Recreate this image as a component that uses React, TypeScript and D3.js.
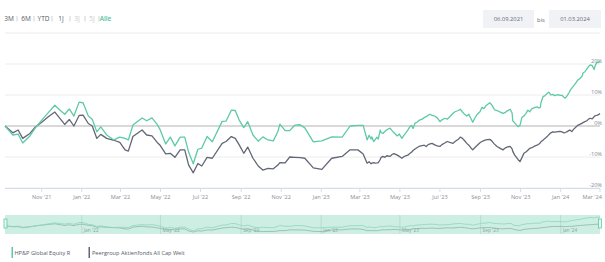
import React from "react";
import * as d3 from "d3";

const startDate = new Date(2021, 8, 6);
const endDate = new Date(2024, 2, 1);

// days since 06.09.2021
const dayOffsets = [
  0, 12, 20, 27, 38, 46, 56, 66, 76, 84, 91, 98, 105, 113, 119, 127, 133, 140, 146, 155,
  166, 175, 183, 188, 195, 209, 216, 224, 232, 236, 245, 252, 259, 267, 274, 280, 287, 294, 300, 308,
  316, 331, 337, 345, 351, 357, 364, 370, 378, 386, 393, 401, 409, 416, 419, 427, 434, 442, 450, 457,
  470, 483, 498, 514, 526, 538, 546,
  552, 555, 558, 559, 562, 564, 567, 569, 572, 573, 576, 579, 582, 587, 590, 593, 598, 601, 605, 608,
  611, 614, 617, 620, 622, 625, 628, 631, 636, 639, 642, 645, 648, 651, 655, 659, 663, 666, 671, 674,
  678, 683, 686, 691, 694, 697, 700, 704, 707, 710, 713, 716, 720, 724, 727, 730, 733, 736, 739, 742,
  745, 747, 750, 755, 759, 762, 765, 770, 773, 774, 777, 782, 785, 788, 791, 794, 797, 800, 803, 808,
  811, 814, 816, 817, 820, 823, 826, 829, 832, 835, 838, 843, 846, 849, 852, 854, 857, 860, 861, 864,
  867, 870, 873, 877, 880, 881, 884, 887, 890, 892, 895, 898, 899, 902, 904, 907,
];

const fundValues = [
  0, -2.9, -2.6, -5.5, -3.2, -0.7, 1.9, 4.3, 6.7, 5.1, 3.8, 5.5, 3.2, 7.7, 7.5, 3.2, 2.2, -1.9, -0.3, -2.9,
  -4.5, -3.6, -4.0, -4.5, 0.3, 2.6, 1.7, 2.6, 0.5, -1.0, -5.8, -3.6, -6.4, -3.6, -3.6, -8.5, -12.2, -7.5, -7.1, -3.4,
  -5.1, 1.5, 1.6, 5.1, 5.0, 1.9, -0.5, 1.4, -2.9, -4.9, -3.5, -4.5, -4.8, -1.8, 0.6, -1.5, -1.5, 0.3, 0.4, -0.6,
  -5.1, -4.8, -3.5, -3.6, 0, 0.2, 0.2,
  -4.5, -3.0, -4.2, -3.5, -5.0, -4.5, -3.6, -4.2, -1.3, -2.0, -2.4, -1.8, -1.2, -0.7, -1.5, -2.2, -3.2, -2.6, -4.0, -3.0,
  -2.2, -1.3, -0.3, 0.2, -0.8, 0.9, 1.2, 1.8, 2.2, 2.7, 3.0, 3.5, 3.8, 3.4, 3.2, 2.6, 1.4, 2.0, 2.5, 2.2,
  3.0, 4.1, 4.6, 5.0, 5.4, 4.6, 3.9, 3.2, 3.8, 2.5, 1.2, 2.5, 3.8, 4.6, 6.0, 5.6, 6.5, 7.0, 7.5, 6.8,
  5.7, 5.1, 5.0, 4.5, 4.1, 4.3, 4.8, 5.4, 4.2, 1.7, 1.0, -0.2, 0.2, 2.8, 3.2, 4.0, 5.1, 4.6, 5.5, 6.0,
  6.2, 5.8, 6.0, 7.5, 9.4, 9.8, 10.4, 10.9, 10.0, 10.2, 9.8, 10.1, 9.9, 9.9, 9.3, 9.0, 9.8, 10.8, 11.3, 12.2,
  13.0, 13.8, 14.8, 15.4, 16.2, 17.1, 17.5, 18.4, 19.3, 19.7, 19.5, 18.2, 19.0, 20.6, 20.4, 20.8,
];

const peerValues = [
  0, -2.2, -1.3, -4.0, -2.4, -0.4, 1.2, 3.0, 4.5, 2.4, 0.5, 2.1, 0, 3.4, 3.5, 0.8, 0, -4.0, -2.7, -4.0,
  -4.6, -5.3, -7.7, -8.1, -3.4, -1.3, -2.9, -3.2, -5.3, -6.1, -9.0, -8.8, -10.1, -7.7, -7.7, -12.6, -15.1, -12.1, -12.9, -10.1,
  -10.4, -5.6, -5.0, -3.4, -4.0, -6.1, -8.8, -6.8, -10.4, -12.9, -14.2, -13.7, -13.8, -12.6, -11.8, -11.9, -10.0, -10.1, -10.2, -10.4,
  -13.5, -14.0, -10.4, -9.8, -7.7, -7.7, -9.0,
  -12.0, -11.5, -12.2, -12.0, -11.8, -12.0, -11.9, -11.8, -10.8, -10.2, -9.8, -10.1, -9.6, -9.8, -9.2, -8.9, -9.4, -9.8, -10.4, -9.9,
  -9.6, -9.4, -8.9, -8.4, -7.9, -7.4, -7.0, -6.6, -6.3, -6.2, -6.6, -6.0, -5.8, -5.6, -6.1, -6.4, -6.6, -6.0, -5.4, -5.0,
  -5.3, -5.6, -5.0, -4.3, -3.6, -3.9, -4.6, -5.6, -6.2, -7.0, -7.7, -7.0, -6.2, -5.4, -5.0, -4.7, -4.5, -4.4, -4.3, -4.8,
  -5.6, -6.0, -6.6, -7.2, -7.7, -7.2, -6.8, -6.6, -7.4, -8.2, -9.4, -10.8, -11.5, -10.2, -8.8, -8.4, -7.8, -7.2, -7.0, -6.4,
  -6.2, -5.8, -5.4, -5.1, -4.6, -4.0, -3.5, -2.8, -2.2, -1.9, -2.0, -1.8, -1.7, -1.9, -2.2, -2.1, -1.8, -1.4, -1.3, -1.8,
  -1.0, -0.4, 0.2, 0.6, 0.9, 1.1, 1.4, 1.7, 2.3, 2.5, 2.3, 3.0, 3.3, 3.4, 3.6, 4.0,
];

const yTicks = [-20, -10, 0, 10, 20, 30];
const xTickDates = [
  "2021-11-01", "2022-01-01", "2022-03-01", "2022-05-01", "2022-07-01", "2022-09-01", "2022-11-01",
  "2023-01-01", "2023-03-01", "2023-05-01", "2023-07-01", "2023-09-01", "2023-11-01", "2024-01-01", "2024-03-01",
];
const navTickDates = ["2022-01-01", "2022-05-01", "2022-09-01", "2023-01-01", "2023-05-01", "2023-09-01", "2024-01-01"];
const rangeButtons = ["3M", "6M", "YTD", "1J", "3J", "5J", "Alle"];
const disabledButtons = ["3J", "5J"];
const seriesNames = ["HP&P Global Equity R", "Peergroup Aktienfonds All Cap Welt"];
const fromLabel = "06.09.2021";
const toLabel = "01.03.2024";

const TEAL = "#5ccaa5";
const GRAY = "#626676";
const FONT = "'Open Sans', 'DejaVu Sans', sans-serif";

const parse = (s: string) => {
  const [y, m, d] = s.split("-").map(Number);
  return new Date(y, m - 1, d);
};
const monthFmt = (d: Date) => {
  const m = d3.timeFormat("%b")(d);
  return `${m} '${d3.timeFormat("%y")(d)}`;
};

export default function App() {
  const W = 605;
  const H = 262;
  const dates = dayOffsets.map((o) => d3.timeDay.offset(startDate, o));
  const x = d3.scaleTime().domain([startDate, endDate]).range([5, 600]);
  const y = d3.scaleLinear().domain([-20, 30]).range([188, 33]);
  const allVals = fundValues.concat(peerValues);
  const ny = d3
    .scaleLinear()
    .domain([d3.min(allVals) as number, d3.max(allVals) as number])
    .range([232, 217]);

  const mkLine = (vals: number[], ys: d3.ScaleLinear<number, number>) =>
    d3
      .line<number>()
      .x((_, i) => x(dates[i]))
      .y((v) => ys(v))(vals) as string;

  const buttonX = [9, 26, 43.5, 61, 77, 92, 105.5];
  const sepX = [17, 34, 52, 70, 85, 99];

  return (
    <svg width={W} height={H} style={{ position: "absolute", left: 0, top: 0, background: "#fff" }} fontFamily={FONT}>
      {/* range buttons */}
      {rangeButtons.map((b, i) => (
        <text
          key={b}
          x={buttonX[i]}
          y={21}
          textAnchor="middle"
          fontSize={6.5}
          fontWeight={b === "Alle" ? 600 : 500}
          fill={b === "Alle" ? "#4ec49b" : disabledButtons.includes(b) ? "#c8c8cc" : "#555a66"}
        >
          {b}
        </text>
      ))}
      {sepX.map((sx, i) => (
        <line key={i} x1={sx} x2={sx} y1={16} y2={21.5} stroke="#c4c6cc" strokeWidth={0.8} />
      ))}

      {/* date inputs */}
      <rect x={483} y={10} width={51} height={18} fill="#f1f2f6" />
      <text x={508.5} y={21} textAnchor="middle" fontSize={5.8} fill="#666a75">{fromLabel}</text>
      <text x={541} y={22} textAnchor="middle" fontSize={5.8} fill="#666a75">bis</text>
      <rect x={549} y={10} width={52} height={18} fill="#f1f2f6" />
      <text x={575} y={21} textAnchor="middle" fontSize={5.8} fill="#666a75">{toLabel}</text>

      {/* grid */}
      {yTicks.map((t) => (
        <line
          key={t}
          x1={5}
          x2={600}
          y1={y(t)}
          y2={y(t)}
          stroke={t === 0 ? "#d9d9d9" : "#ececec"}
          strokeWidth={t === 0 ? 2 : 1}
        />
      ))}
      <line x1={5} x2={600} y1={188.5} y2={188.5} stroke="#d5dcea" strokeWidth={1} />

      {/* y labels */}
      {yTicks
        .filter((t) => t < 30)
        .map((t) => (
          <text key={t} x={602} y={y(t) - 1.5} textAnchor="end" fontSize={5.6} fill="#8a8d96">
            {`${t}%`}
          </text>
        ))}

      {/* x ticks */}
      {xTickDates.map((s, i) => {
        const d = parse(s);
        const px = x(d);
        const last = i === xTickDates.length - 1;
        return (
          <g key={s}>
            <line x1={px} x2={px} y1={188} y2={192} stroke="#d5dcea" />
            <text x={last ? 602 : px} y={199} textAnchor={last ? "end" : "middle"} fontSize={5.6} fill="#8a8d96">
              {monthFmt(d)}
            </text>
          </g>
        );
      })}

      {/* series */}
      <path d={mkLine(peerValues, y)} fill="none" stroke={GRAY} strokeWidth={1.3} strokeLinejoin="round" />
      <path d={mkLine(fundValues, y)} fill="none" stroke={TEAL} strokeWidth={1.3} strokeLinejoin="round" />

      {/* navigator */}
      <rect x={5} y={215} width={595} height={19} fill="#cdeee3" />
      {navTickDates.map((s) => {
        const d = parse(s);
        const px = x(d);
        return (
          <g key={s}>
            <line x1={px} x2={px} y1={215} y2={234} stroke="#b8dccf" strokeWidth={1} />
            <text x={px + 2} y={232} fontSize={4.8} fill="#8fa59d">
              {monthFmt(d)}
            </text>
          </g>
        );
      })}
      <path d={mkLine(peerValues, ny)} fill="none" stroke="#8fb5a8" strokeWidth={0.8} />
      <path d={mkLine(fundValues, ny)} fill="none" stroke="#8fd6bd" strokeWidth={0.8} />
      <rect x={4} y={219} width={3} height={9} fill="#e8f7f1" stroke="#5ccaa5" strokeWidth={0.8} />
      <rect x={598.5} y={219} width={3} height={9} fill="#e8f7f1" stroke="#5ccaa5" strokeWidth={0.8} />

      {/* legend */}
      <rect x={11.5} y={247} width={1.5} height={11} fill={TEAL} />
      <text x={14.5} y={255} fontSize={5.6} fill="#555a66">{seriesNames[0]}</text>
      <rect x={88.5} y={247} width={1.5} height={11} fill={GRAY} />
      <text x={92} y={255} fontSize={5.6} fill="#555a66">{seriesNames[1]}</text>
    </svg>
  );
}
